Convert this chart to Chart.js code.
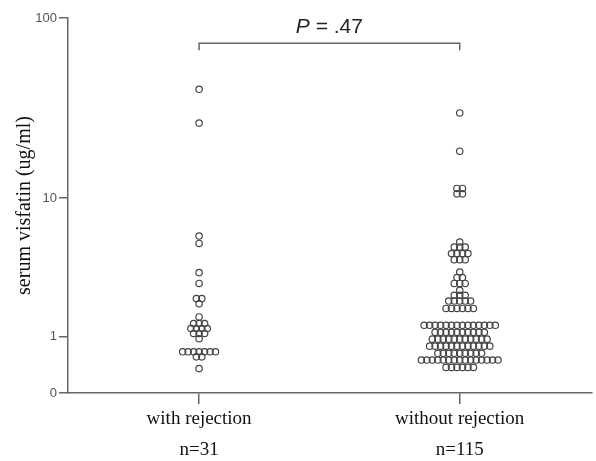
<!DOCTYPE html>
<html>
<head>
<meta charset="utf-8">
<script src="https://cdn.jsdelivr.net/npm/chart.js@4.4.1/dist/chart.umd.min.js"></script>
<style>
  html, body { margin: 0; padding: 0; background: #fff; }
  canvas { display: block; }
</style>
</head>
<body>
<canvas id="chart" width="596" height="461"></canvas>
<script>
(function() {
    'use strict';

    // data
    var CATEGORIES = ['with rejection', 'without rejection'];
    var GROUP_N = ['n=31', 'n=115'];
    var Y_TICKS = [0, 1, 10, 100];
    var P_LABEL = '.47';

    var WITH_REJECTION = [
        41, 26.7, 5.9, 5.3, 3.4, 2.85, 2.2, 2.2, 2.0, 1.55,
        1.35, 1.35, 1.35,
        1.21, 1.21, 1.21, 1.21,
        1.08, 1.08, 1.08,
        0.95,
        0.66, 0.66, 0.66, 0.66, 0.66, 0.66, 0.66,
        0.56, 0.56,
        0.35
    ];

    var WITHOUT_REJECTION = [
        30.4, 18.6, 11.4, 11.4, 10.6, 10.6,
        5.41, 5.03, 5.03, 5.03, 4.56, 4.56, 4.56, 4.56, 4.16, 4.16, 4.16,
        3.43, 3.14, 3.14, 2.85, 2.85, 2.85,
        2.54, 2.33, 2.33, 2.33, 2.10, 2.10, 2.10, 2.10, 2.10,
        1.83, 1.83, 1.83, 1.83, 1.83, 1.83,
        1.30, 1.30, 1.30, 1.30, 1.30, 1.30, 1.30, 1.30, 1.30, 1.30, 1.30, 1.30, 1.30, 1.30,
        1.11, 1.11, 1.11, 1.11, 1.11, 1.11, 1.11, 1.11, 1.11, 1.11,
        0.94, 0.94, 0.94, 0.94, 0.94, 0.94, 0.94, 0.94, 0.94, 0.94, 0.94,
        0.78, 0.78, 0.78, 0.78, 0.78, 0.78, 0.78, 0.78, 0.78, 0.78, 0.78, 0.78,
        0.63, 0.63, 0.63, 0.63, 0.63, 0.63, 0.63, 0.63, 0.63,
        0.50, 0.50, 0.50, 0.50, 0.50, 0.50, 0.50, 0.50, 0.50, 0.50, 0.50, 0.50, 0.50, 0.50, 0.50,
        0.37, 0.37, 0.37, 0.37, 0.37, 0.37
    ];

    var BRACKET_TOP = 73;
    var BRACKET_FOOT = 67;

    var DOT_STEP = 0.021;   // horizontal step between dots of one row, x units
    var AXIS_COLOR = '#666';

    // y axis of the original: linear in log10(value + 1)
    class Log1pScale extends Chart.LinearScale {
        getPixelForValue(value) {
            var lo = Math.log10(this.min + 1);
            var hi = Math.log10(this.max + 1);
            return this.getPixelForDecimal((Math.log10(value + 1) - lo) / (hi - lo));
        }
        getValueForPixel(pixel) {
            var lo = Math.log10(this.min + 1);
            var hi = Math.log10(this.max + 1);
            return Math.pow(10, lo + this.getDecimalForPixel(pixel) * (hi - lo)) - 1;
        }
    }
    Log1pScale.id = 'log1p';
    Log1pScale.defaults = Chart.LinearScale.defaults;
    Chart.register(Log1pScale);

    // rows of equal values get spread around the group centre
    function dotRows(values, center) {
        var counts = {};
        values.forEach(function(v) { counts[v] = (counts[v] || 0) + 1; });
        var seen = {};
        return values.map(function(v) {
            var i = seen[v] || 0;
            seen[v] = i + 1;
            return { x: center + (i - (counts[v] - 1) / 2) * DOT_STEP, y: v };
        });
    }

    var dotStyle = {
        type: 'scatter',
        pointRadius: 3.2,
        pointBorderWidth: 1.2,
        pointBorderColor: '#444',
        pointBackgroundColor: 'rgba(255,255,255,0)',
        pointHoverRadius: 3.2
    };

    var pValuePlugin = {
        id: 'pValue',
        afterDatasetsDraw: function(chart) {
            var ctx = chart.ctx;
            var xs = chart.scales.x;
            var ys = chart.scales.y;
            var cx = (xs.getPixelForValue(1) + xs.getPixelForValue(2)) / 2;
            var base = ys.getPixelForValue(BRACKET_TOP) - 10;
            ctx.save();
            ctx.fillStyle = '#222';
            ctx.textBaseline = 'alphabetic';
            var f1 = 'italic 21px "Liberation Sans", Arial, sans-serif';
            var f2 = '21px "Liberation Sans", Arial, sans-serif';
            var rest = ' = ' + P_LABEL;
            ctx.font = f1;
            var w1 = ctx.measureText('P').width;
            ctx.font = f2;
            var w2 = ctx.measureText(rest).width;
            var x0 = cx - (w1 + w2) / 2;
            ctx.font = f1;
            ctx.fillText('P', x0, base);
            ctx.font = f2;
            ctx.fillText(rest, x0 + w1, base);
            ctx.restore();
        }
    };

    var ctx = document.getElementById('chart').getContext('2d');
    new Chart(ctx, {
        data: {
            datasets: [
                Object.assign({ data: dotRows(WITH_REJECTION, 1) }, dotStyle),
                Object.assign({ data: dotRows(WITHOUT_REJECTION, 2) }, dotStyle),
                {
                    type: 'line',
                    data: [
                        { x: 1, y: BRACKET_FOOT }, { x: 1, y: BRACKET_TOP },
                        { x: 2, y: BRACKET_TOP }, { x: 2, y: BRACKET_FOOT }
                    ],
                    borderColor: '#666',
                    borderWidth: 1.5,
                    pointRadius: 0,
                    tension: 0
                }
            ]
        },
        options: {
            responsive: false,
            animation: false,
            devicePixelRatio: 1,
            layout: { padding: { top: 18, right: 0, left: 0, bottom: 0 } },
            plugins: {
                legend: { display: false },
                tooltip: { enabled: false }
            },
            scales: {
                x: {
                    type: 'linear',
                    min: 0.497,
                    max: 2.506,
                    afterBuildTicks: function(scale) {
                        scale.ticks = [{ value: 1 }, { value: 2 }];
                    },
                    afterFit: function(scale) { scale.height = 68; },
                    ticks: {
                        autoSkip: false,
                        maxRotation: 0,
                        padding: 0,
                        color: '#111',
                        font: { family: '"Liberation Serif", "Times New Roman", serif', size: 19, lineHeight: 1.62 },
                        callback: function(value) {
                            var i = value - 1;
                            return [CATEGORIES[i], GROUP_N[i]];
                        }
                    },
                    grid: { drawOnChartArea: false, drawTicks: true, tickLength: 11, color: AXIS_COLOR, lineWidth: 1.5 },
                    border: { display: true, color: AXIS_COLOR, width: 1.5 }
                },
                y: {
                    type: 'log1p',
                    min: 0,
                    max: 100,
                    afterBuildTicks: function(scale) {
                        scale.ticks = Y_TICKS.map(function(v) { return { value: v }; });
                    },
                    afterFit: function(scale) { scale.width = 68; },
                    ticks: {
                        padding: 2,
                        color: '#555',
                        font: { family: '"Liberation Sans", Arial, sans-serif', size: 13 },
                        callback: function(value) { return String(value); }
                    },
                    grid: { drawOnChartArea: false, drawTicks: true, tickLength: 9, color: AXIS_COLOR, lineWidth: 1.5 },
                    border: { display: true, color: AXIS_COLOR, width: 1.5 },
                    title: {
                        display: true,
                        text: 'serum visfatin (ug/ml)',
                        color: '#111',
                        padding: { top: 13, bottom: 4 },
                        font: { family: '"Liberation Serif", "Times New Roman", serif', size: 20 }
                    }
                }
            }
        },
        plugins: [pValuePlugin]
    });
})();
</script>
</body>
</html>
